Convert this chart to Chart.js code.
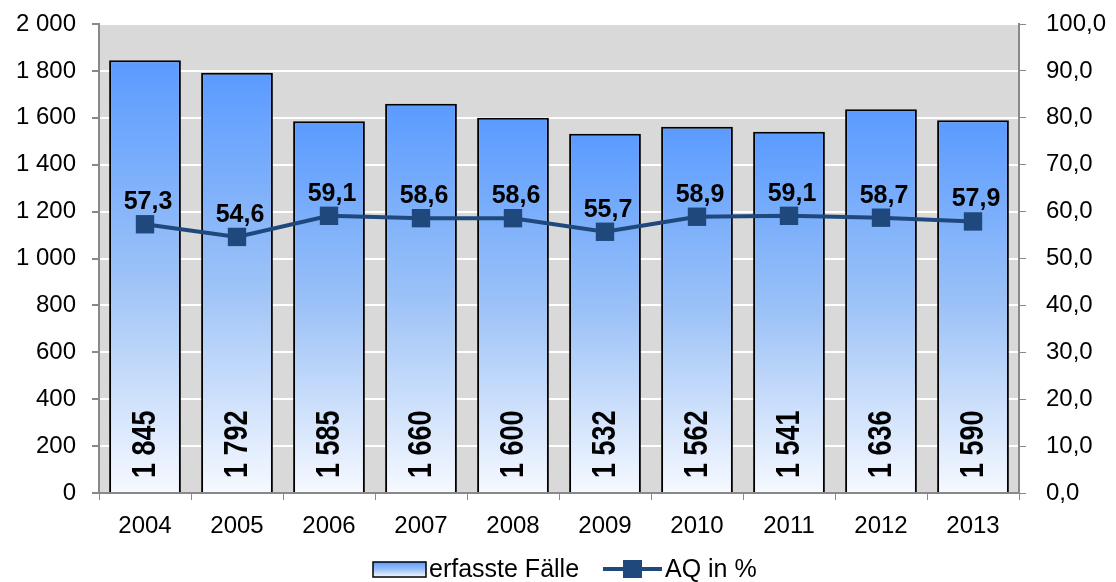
<!DOCTYPE html>
<html lang="de">
<head>
<meta charset="UTF-8">
<title>Erfasste Fälle und AQ</title>
<script src="https://cdn.jsdelivr.net/npm/chart.js"></script>
<style>
  html, body { margin: 0; padding: 0; background: #fff; }
  #wrap { width: 1116px; height: 582px; }
</style>
</head>
<body>
<div id="wrap"><canvas id="chart" width="1116" height="582"></canvas></div>
<script>
  const jahre = ["2004", "2005", "2006", "2007", "2008", "2009", "2010", "2011", "2012", "2013"];
  const faelle = [1845, 1792, 1585, 1660, 1600, 1532, 1562, 1541, 1636, 1590];
  const aq = [57.3, 54.6, 59.1, 58.6, 58.6, 55.7, 58.9, 59.1, 58.7, 57.9];

  const FONT = "'Liberation Sans', Arial, sans-serif";
  const LINIE = "#1f497d";

  const fmtInt = v => String(Math.round(v)).replace(/\B(?=(\d{3})+(?!\d))/g, " ");
  const fmtDez = v => v.toFixed(1).replace(".", ",");

  function verlauf(ctx, top, bottom) {
    const g = ctx.createLinearGradient(0, top, 0, bottom);
    g.addColorStop(0, "#5a9bff");
    g.addColorStop(0.5, "#9cc2f7");
    g.addColorStop(1, "#f6f9ff");
    return g;
  }

  // Achsen ohne automatische Randabstände, feste Größen
  function festeGroesse(w, h) {
    return s => {
      if (w != null) s.width = w;
      if (h != null) s.height = h;
      s.paddingTop = 0;
      s.paddingBottom = 0;
      s.paddingLeft = 0;
      s.paddingRight = 0;
    };
  }

  // grauer Hintergrund der Zeichenfläche
  const hintergrund = {
    id: "hintergrund",
    beforeDraw(chart) {
      const { ctx, chartArea: a } = chart;
      ctx.save();
      ctx.fillStyle = "#d9d9d9";
      ctx.fillRect(a.left, a.top, a.right - a.left, a.bottom - a.top);
      ctx.restore();
    }
  };

  // Werte in den Balken und über den Punkten
  const beschriftung = {
    id: "beschriftung",
    afterDatasetsDraw(chart) {
      const ctx = chart.ctx;
      ctx.save();
      ctx.fillStyle = "#000";
      chart.getDatasetMeta(1).data.forEach((bar, i) => {
        ctx.save();
        ctx.translate(bar.x + 1, chart.chartArea.bottom - 15);
        ctx.rotate(-Math.PI / 2);
        ctx.scale(1, 1.25);
        ctx.font = "bold 27px " + FONT;
        ctx.textAlign = "left";
        ctx.textBaseline = "middle";
        ctx.fillText(fmtInt(faelle[i]), 0, 0);
        ctx.restore();
      });
      ctx.font = "bold 25px " + FONT;
      ctx.textAlign = "center";
      ctx.textBaseline = "middle";
      chart.getDatasetMeta(0).data.forEach((p, i) => {
        ctx.fillText(fmtDez(aq[i]), p.x + 3, p.y - 22);
      });
      ctx.restore();
    }
  };

  // Legende unten
  const legende = {
    id: "legende",
    afterDraw(chart) {
      const ctx = chart.ctx;
      const y = 569;
      ctx.save();
      ctx.fillStyle = verlauf(ctx, y - 7, y + 8);
      ctx.fillRect(373, y - 7, 53, 15);
      ctx.strokeStyle = "#000";
      ctx.lineWidth = 1.5;
      ctx.strokeRect(373, y - 7, 53, 15);
      ctx.fillStyle = "#000";
      ctx.font = "25px " + FONT;
      ctx.textBaseline = "middle";
      ctx.fillText("erfasste Fälle", 429, y + 1);
      ctx.strokeStyle = LINIE;
      ctx.lineWidth = 4;
      ctx.beginPath();
      ctx.moveTo(603, y);
      ctx.lineTo(662, y);
      ctx.stroke();
      ctx.fillStyle = LINIE;
      ctx.fillRect(623, y - 9, 19, 18);
      ctx.fillStyle = "#000";
      ctx.fillText("AQ in %", 665, y + 1);
      ctx.restore();
    }
  };

  new Chart(document.getElementById("chart"), {
    data: {
      labels: jahre,
      datasets: [
        {
          type: "line",
          label: "AQ in %",
          data: aq,
          yAxisID: "y1",
          borderColor: LINIE,
          backgroundColor: LINIE,
          borderWidth: 4,
          pointStyle: "rect",
          pointRadius: 13,
          pointBorderWidth: 0,
          tension: 0,
          order: 0
        },
        {
          type: "bar",
          label: "erfasste Fälle",
          data: faelle,
          yAxisID: "y",
          backgroundColor: (c) => {
            const a = c.chart.chartArea;
            const s = c.chart.scales.y;
            if (!a || !s || c.raw == null) return "#5a9bff";
            return verlauf(c.chart.ctx, s.getPixelForValue(c.raw), a.bottom);
          },
          borderColor: "#000",
          borderWidth: 2,
          borderSkipped: "bottom",
          categoryPercentage: 1,
          barPercentage: 0.78,
          order: 1
        }
      ]
    },
    options: {
      responsive: false,
      animation: false,
      layout: { padding: { top: 24, left: 0, right: 0, bottom: 0 } },
      plugins: {
        legend: { display: false },
        tooltip: { enabled: false }
      },
      scales: {
        x: {
          offset: true,
          grid: { display: true, drawOnChartArea: false, offset: true, color: "#888", tickLength: 7 },
          border: { color: "#888", width: 2 },
          ticks: { color: "#000", font: { family: FONT, size: 24 }, padding: 12 },
          afterFit: festeGroesse(null, 89)
        },
        y: {
          position: "left",
          min: 0,
          max: 2000,
          ticks: { stepSize: 200, color: "#000", font: { family: FONT, size: 24 }, padding: 16, callback: v => fmtInt(v) },
          grid: { color: "#ffffff", lineWidth: 2, tickColor: "#888", tickLength: 7 },
          border: { color: "#888", width: 2 },
          afterFit: festeGroesse(99, null)
        },
        y1: {
          position: "right",
          min: 0,
          max: 100,
          ticks: { stepSize: 10, color: "#000", font: { family: FONT, size: 24 }, padding: 20, callback: v => fmtDez(v) },
          grid: { drawOnChartArea: false, tickColor: "#888", tickLength: 7 },
          border: { color: "#888", width: 2 },
          afterFit: festeGroesse(97, null)
        }
      }
    },
    plugins: [hintergrund, beschriftung, legende]
  });
</script>
</body>
</html>
